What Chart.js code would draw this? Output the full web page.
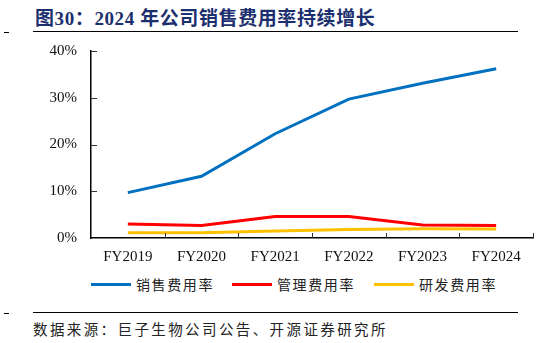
<!DOCTYPE html>
<html><head><meta charset="utf-8">
<script src="https://cdn.jsdelivr.net/npm/chart.js@4.4.1/dist/chart.umd.min.js"></script>
<style>
html,body{margin:0;padding:0;background:#fff;}
#wrap{position:relative;width:550px;height:343px;overflow:hidden;}
#title{position:absolute;left:35px;top:3px;font-size:19px;font-weight:bold;color:#1c2f6e;white-space:nowrap;letter-spacing:0.6px;}
#title .l{font-family:"Liberation Serif","Times New Roman",serif;}
#title .c{font-family:"Noto Sans CJK SC",sans-serif;}
.rule{position:absolute;left:33px;width:485px;height:0;border-top:1.5px solid #000;}
.dash{position:absolute;left:4px;width:5px;height:0;border-top:1px solid #000;}
#src{position:absolute;left:33px;top:318px;font-family:"Noto Sans CJK SC",sans-serif;font-size:14.5px;letter-spacing:2.4px;color:#222;white-space:nowrap;}
#cv{position:absolute;left:0;top:28px;width:550px;height:244px;}
#legend{position:absolute;left:0;top:274px;width:550px;height:20px;}
.lg{position:absolute;top:0;height:20px;font-family:"Noto Sans CJK SC",sans-serif;font-size:14px;letter-spacing:1.6px;color:#222;line-height:20px;white-space:nowrap;}
.lg i{position:absolute;top:9px;height:3px;width:40px;}
</style></head>
<body><div id="wrap">
<div id="title"><span class="c">图</span><span class="l">30</span><span class="c">：</span><span class="l">2024 </span><span class="c">年公司销售费用率持续增长</span></div>
<div class="dash" style="top:32px"></div>
<div class="rule" style="top:31px"></div>
<div id="cv"><canvas id="c" width="550" height="244"></canvas></div>
<div id="legend"></div>
<div class="dash" style="top:313px"></div>
<div class="rule" style="top:312px"></div>
<div id="src">数据来源：巨子生物公司公告、开源证券研究所</div>
</div>
<script>
const categories = ["FY2019","FY2020","FY2021","FY2022","FY2023","FY2024"];
const salesRate = [9.7, 13.2, 22.3, 29.7, 33.1, 36.2];
const adminRate = [3.0, 2.7, 4.6, 4.6, 2.8, 2.7];
const rdRate = [1.1, 1.1, 1.5, 1.8, 2.0, 1.9];
const seriesNames = ["销售费用率","管理费用率","研发费用率"];
const seriesColors = ["#0070C0","#FF0000","#FFC000"];
const yTicks = [0, 10, 20, 30, 40];

const legendLeft = [91, 232, 374];
const lgEl = document.getElementById('legend');
seriesNames.forEach((n,i)=>{
  const d = document.createElement('div');
  d.className='lg'; d.style.left = legendLeft[i]+'px';
  d.innerHTML = '<i style="left:0;background:'+seriesColors[i]+'"></i><span style="margin-left:45px">'+n+'</span>';
  lgEl.appendChild(d);
});

const innerTicks = {
  id:'innerTicks',
  afterDraw(chart){
    const ctx = chart.ctx, xs = chart.scales.x, ys = chart.scales.y;
    ctx.save();
    ctx.strokeStyle = '#333'; ctx.lineWidth = 1;
    const n = categories.length, w = (xs.right - xs.left)/n;
    for(let i=1;i<=n;i++){
      const x = Math.round(xs.left + i*w)+0.5;
      ctx.beginPath(); ctx.moveTo(x, ys.bottom); ctx.lineTo(x, ys.bottom-5); ctx.stroke();
    }
    yTicks.forEach(v=>{
      if(v===0) return;
      const y = Math.round(ys.getPixelForValue(v))+0.5;
      ctx.beginPath(); ctx.moveTo(xs.left, y); ctx.lineTo(xs.left+6, y); ctx.stroke();
    });
    ctx.restore();
  }
};

const dataSets = [salesRate, adminRate, rdRate].map((d,i)=>({
  label: seriesNames[i], data: d, borderColor: seriesColors[i], backgroundColor: seriesColors[i],
  borderWidth: 3, pointRadius: 0, tension: 0, fill:false, order: i===2?0:(i===1?1:2)
}));

new Chart(document.getElementById('c'), {
  type:'line',
  data:{labels: categories, datasets: dataSets},
  options:{
    responsive:false, animation:false,
    layout:{padding:{top:2,right:17,left:0,bottom:0}},
    plugins:{legend:{display:false}, tooltip:{enabled:false}},
    scales:{
      x:{
        offset:true,
        grid:{display:true, drawOnChartArea:false, drawTicks:false},
        border:{display:true, color:'#000', width:1.5},
        ticks:{padding:10, color:'#111', font:{family:'"Liberation Serif","Times New Roman",serif', size:15}, maxRotation:0},
        afterFit(s){ s.height = 34; }
      },
      y:{
        min:0, max:40,
        afterBuildTicks(s){ s.ticks = yTicks.map(v=>({value:v})); },
        grid:{display:true, drawOnChartArea:false, drawTicks:false},
        border:{display:true, color:'#000', width:1.5},
        ticks:{padding:14, color:'#111', font:{family:'"Liberation Serif","Times New Roman",serif', size:15}, callback:v=>v+'%'},
        afterFit(s){ s.width = 91; }
      }
    }
  },
  plugins:[innerTicks]
});
</script>
</body></html>
